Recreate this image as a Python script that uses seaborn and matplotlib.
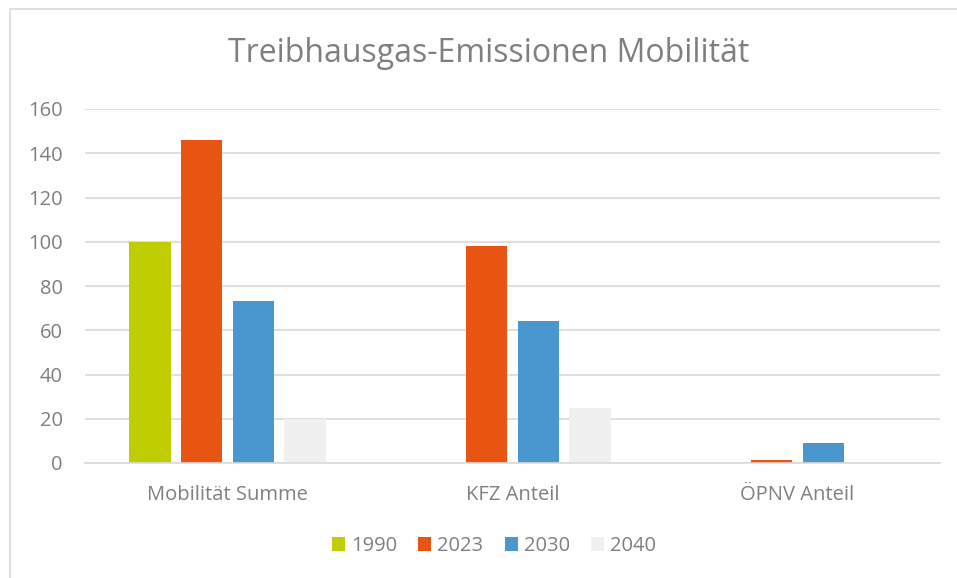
import pandas as pd
import matplotlib.pyplot as plt
import seaborn as sns
from matplotlib.patches import Rectangle

# data
categories = ['Mobilität Summe', 'KFZ Anteil', 'ÖPNV Anteil']
years = ['1990', '2023', '2030', '2040']
v1990 = [100, 0, 0]
v2023 = [146, 98, 1.5]
v2030 = [73, 64, 9]
v2040 = [20, 25, 0]
colors = ['#BFCE00', '#E85412', '#4A96CE', '#F0F0F0']

rows = []
for y, vals in zip(years, [v1990, v2023, v2030, v2040]):
    for c, v in zip(categories, vals):
        rows.append({'Kategorie': c, 'Jahr': y, 'Wert': v})
df = pd.DataFrame(rows)

sns.set_style('white')
plt.rcParams['font.family'] = ['Open Sans', 'DejaVu Sans']
grey = '#7F7F7F'

fig = plt.figure(figsize=(9.57, 5.78), dpi=100)
ax = fig.add_axes([85 / 957, 1 - 463 / 578, 855 / 957, 354 / 578])

sns.barplot(data=df, x='Kategorie', y='Wert', hue='Jahr', hue_order=years,
            palette=colors, width=0.725, gap=0.2, linewidth=0, saturation=1,
            ax=ax)

ax.set_ylim(0, 160)
ax.set_xlim(-0.5, 2.5)
ax.set_yticks(range(0, 161, 20))
ax.yaxis.grid(True, color='#D9D9D9', linewidth=1.2)
ax.set_axisbelow(True)
for s in ['top', 'right', 'left']:
    ax.spines[s].set_visible(False)
ax.spines['bottom'].set_color('#D9D9D9')
ax.spines['bottom'].set_linewidth(1.2)
ax.tick_params(axis='both', length=0, labelsize=14.5, labelcolor=grey)
ax.tick_params(axis='x', pad=16)
ax.tick_params(axis='y', pad=16)
ax.set_xlabel('')
ax.set_ylabel('')

fig.text(489 / 957, 1 - 53 / 578, 'Treibhausgas-Emissionen Mobilität',
         ha='center', va='center', fontsize=23, color=grey)

leg = ax.legend(loc='center', ncol=4, frameon=False, fontsize=14.5,
                handlelength=0.65, handleheight=0.65, handletextpad=0.3,
                columnspacing=1.05, labelcolor=grey)
leg.set_bbox_to_anchor((494 / 957, 1 - 546 / 578), transform=fig.transFigure)

# outer frame of the chart area
fig.patches.append(Rectangle((10 / 957, -0.1), 1.1, 1 - 9 / 578 + 0.1,
                             transform=fig.transFigure, fill=False,
                             edgecolor='#D9D9D9', linewidth=1.2))

fig.savefig('out.png', dpi=100)
